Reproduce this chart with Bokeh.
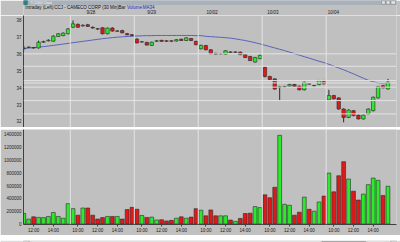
import math
from bokeh.plotting import figure
from bokeh.models import Range1d, FixedTicker, Span, ColumnDataSource, NumeralTickFormatter
from bokeh.layouts import column
from bokeh.core.properties import value
from bokeh.embed import file_html
from bokeh.resources import INLINE

# ---------------- data (30-minute bars, CCJ, 9/27 11:00 .. 10/04 15:30) ----------------
opens = [36.33, 36.40, 36.39, 36.37, 36.71, 36.79, 36.77, 37.05, 37.10, 37.21,
         37.60, 37.77, 37.68, 37.75, 37.60, 37.51, 37.57, 37.21, 37.55, 37.36,
         37.40, 37.22, 37.16, 36.89, 36.72, 36.70, 36.52, 36.77, 36.82, 36.79,
         36.79, 36.78, 36.89, 36.81, 36.93, 36.76, 36.32, 36.51, 36.26, 36.05,
         36.01, 35.99, 36.13, 36.11, 36.12, 35.97, 35.86, 35.53, 35.73, 35.22,
         34.67, 34.53, 34.02, 34.05, 34.10, 34.20, 34.10, 33.88, 34.24, 34.12,
         34.19, 34.43, 33.28, 33.54, 33.40, 32.74, 32.24, 32.64, 32.38, 32.15,
         32.45, 32.64, 33.40, 34.13, 33.93]
closes = [36.37, 36.42, 36.36, 36.71, 36.75, 36.83, 37.07, 37.21, 37.25, 37.50,
          37.80, 37.60, 37.71, 37.65, 37.55, 37.49, 37.21, 37.55, 37.37, 37.38,
          37.27, 37.15, 37.10, 36.67, 36.74, 36.54, 36.71, 36.79, 36.76, 36.77,
          36.77, 36.86, 36.81, 36.97, 36.81, 36.56, 36.52, 36.26, 36.02, 35.99,
          36.03, 36.20, 36.11, 36.13, 35.97, 35.80, 35.62, 35.80, 35.93, 34.67,
          34.50, 33.93, 34.06, 34.08, 34.20, 34.08, 33.88, 34.33, 34.22, 34.14,
          34.43, 34.23, 33.54, 33.35, 32.74, 32.24, 32.68, 32.35, 32.15, 32.38,
          32.74, 33.44, 34.07, 34.00, 34.33]
highs = [36.50, 36.45, 36.42, 36.80, 36.80, 36.88, 37.12, 37.25, 37.29, 37.55,
         38.00, 37.82, 37.78, 37.80, 37.64, 37.55, 37.60, 37.58, 37.60, 37.42,
         37.45, 37.26, 37.19, 36.95, 36.78, 36.73, 36.74, 36.83, 36.85, 36.82,
         36.82, 36.89, 36.92, 37.00, 36.96, 36.80, 36.56, 36.55, 36.30, 36.08,
         36.06, 36.24, 36.16, 36.16, 36.15, 36.00, 35.90, 35.84, 35.98, 35.28,
         34.72, 34.57, 34.12, 34.12, 34.24, 34.24, 34.14, 34.37, 34.28, 34.17,
         34.47, 34.47, 33.88, 33.58, 33.44, 32.78, 32.72, 32.68, 32.42, 32.42,
         32.78, 33.48, 34.11, 34.17, 34.53]
lows = [36.22, 36.37, 36.34, 36.33, 36.68, 36.76, 36.74, 37.02, 37.07, 37.18,
        37.55, 37.57, 37.64, 37.62, 37.52, 37.45, 37.18, 37.18, 37.34, 37.33,
        37.24, 37.12, 37.07, 36.64, 36.69, 36.51, 36.49, 36.74, 36.73, 36.74,
        36.74, 36.75, 36.78, 36.78, 36.78, 36.53, 36.28, 36.23, 35.99, 35.96,
        35.98, 35.96, 36.08, 36.08, 35.94, 35.77, 35.59, 35.50, 35.70, 34.62,
        34.46, 33.88, 33.24, 34.02, 34.07, 34.05, 33.85, 33.85, 34.19, 34.09,
        34.16, 34.20, 33.24, 33.31, 32.70, 31.95, 32.20, 32.31, 32.12, 32.12,
        32.42, 32.60, 33.36, 33.97, 33.90]
volumes = [165000, 77000, 112000, 103000, 100000, 118000, 180000, 118000, 90000, 318000,
           240000, 138000, 250000, 250000, 138000, 77000, 100000, 118000, 118000, 118000,
           77000, 225000, 260000, 230000, 133000, 103000, 108000, 63000, 67000, 48000,
           57000, 90000, 112000, 90000, 108000, 240000, 215000, 128000, 220000, 128000,
           128000, 128000, 62000, 41000, 87000, 164000, 169000, 272000, 256000, 456000,
           410000, 574000, 1385000, 308000, 292000, 138000, 185000, 420000, 230000, 200000,
           344000, 436000, 795000, 503000, 754000, 974000, 703000, 513000, 374000, 467000,
           615000, 718000, 682000, 446000, 590000]
ma34 = [36.33, 36.36, 36.39, 36.42, 36.45, 36.48, 36.52, 36.56, 36.60, 36.64,
        36.68, 36.72, 36.76, 36.80, 36.84, 36.88, 36.92, 36.95, 36.98, 37.01,
        37.03, 37.05, 37.07, 37.08, 37.09, 37.10, 37.10, 37.11, 37.11, 37.11,
        37.11, 37.11, 37.11, 37.11, 37.11, 37.10, 37.10, 37.06, 37.04, 37.02,
        37.00, 36.98, 36.95, 36.91, 36.86, 36.81, 36.75, 36.68, 36.61, 36.53,
        36.45, 36.37, 36.29, 36.21, 36.12, 36.03, 35.94, 35.85, 35.76, 35.67,
        35.58, 35.50, 35.40, 35.29, 35.18, 35.07, 34.95, 34.83, 34.70, 34.57,
        34.45, 34.36, 34.29, 34.25, 34.23]
day_starts = [10, 23, 36, 49, 62]
day_labels = ["9/28", "9/29", "10/02", "10/03", "10/04"]
time_ticks = [2, 6, 11, 15, 19, 24, 28, 32, 37, 41, 45, 50, 54, 58, 63, 67, 71]
time_labels = ["12:00", "14:00", "10:00", "12:00", "14:00", "10:00", "12:00", "14:00",
               "10:00", "12:00", "14:00", "10:00", "12:00", "14:00", "10:00", "12:00", "14:00"]
price_ticks = [32, 33, 34, 35, 36, 37, 38]
volume_ticks = [0, 200000, 400000, 600000, 800000, 1000000, 1200000, 1400000]
level_lines = [36.02, 35.28, 34.43, 34.29, 34.04, 33.24, 32.45]
header_parts = ["Intraday (Left)", "CCJ - CAMECO CORP (30 Min)", "Bar", "Volume", "MA34"]
window_title = "TC2000 Chart"

# ---------------- styling / layout ----------------
FONT = "Liberation Sans"
BG = "#c0c0c0"
UP = "#2ee82e"
DOWN = "#e01818"
EDGE = "#2a2a2a"
LIGHT = "#e4e4e4"
FS = "4.5px"
LEFT, RIGHT, PX_PER_BAR = 17, 4, 5.0
header_px = [2, 33, 102, 111, 128]   # left edges of header pieces, in pixels

n = len(opens)
idx = list(range(n))
up = [c >= o for o, c in zip(opens, closes)]
src = ColumnDataSource(dict(
    x=idx, o=opens, c=closes, h=highs, l=lows, v=volumes, ma=ma34,
    top=[max(o, c) for o, c in zip(opens, closes)],
    bot=[min(o, c) for o, c in zip(opens, closes)],
    col=[UP if u else DOWN for u in up],
))

x0 = -0.06
xr = Range1d(x0, x0 + (400 - LEFT - RIGHT) / PX_PER_BAR)
# header strip spans the full 400 px with the same bar scale
hx0 = x0 - LEFT / PX_PER_BAR
head_xr = Range1d(hx0, hx0 + 400 / PX_PER_BAR)


def px(p):
    return hx0 + p / PX_PER_BAR


def strip(h, bg, x_range):
    f = figure(width=400, height=h, x_range=x_range, y_range=Range1d(0, h),
               output_backend="svg", toolbar_location=None, x_axis_location=None,
               y_axis_location=None, min_border=0, background_fill_color=bg,
               border_fill_color=bg, outline_line_color=None, title=None)
    f.grid.grid_line_color = None
    return f


# title bar + header line + date labels (15 px)
p_head = strip(15, BG, head_xr)
p_head.quad(left=[px(0)], right=[px(400)], bottom=[11], top=[15], color="#a9b1bb")
p_head.quad(left=[px(0)], right=[px(4)], bottom=[11], top=[15], color="#2f7f86")
p_head.quad(left=[px(384), px(389), px(394)], right=[px(388), px(393), px(399)],
            bottom=[11.3] * 3, top=[14.7] * 3,
            fill_color="#e6e6e6", line_color="#707070", line_width=0.5)
p_head.text(x=[px(7)], y=[13], text=[window_title], text_font=value(FONT),
            text_font_size=value("3.5px"), text_baseline="middle", text_color="#f4f4f4")
p_head.text(x=[px(v) for v in header_px[:3]], y=[7.7] * 3, text=header_parts[:3],
            text_font=value(FONT), text_font_size=value(FS), text_baseline="middle",
            text_color="#101010")
p_head.text(x=[px(v) for v in header_px[3:]], y=[7.7] * 2, text=header_parts[3:],
            text_font=value(FONT), text_font_size=value(FS), text_baseline="middle",
            text_color="#2030c0")
p_head.text(x=[s + 1 for s in day_starts], y=[2.9] * len(day_starts), text=day_labels,
            text_font=value(FONT), text_font_size=value(FS), text_baseline="middle",
            text_align="center", text_color="#202020")

# price panel
p_top = figure(width=400, height=112, x_range=xr, y_range=Range1d(31.642, 38.297),
               output_backend="svg", toolbar_location=None, x_axis_location=None,
               min_border_left=LEFT, min_border_right=RIGHT, min_border_top=0,
               min_border_bottom=0, background_fill_color=BG, border_fill_color=BG,
               outline_line_color=None, title=None)
p_top.grid.grid_line_color = None
for lv in level_lines:
    p_top.add_layout(Span(location=lv, dimension="width", line_color=LIGHT, line_width=1))
for s in day_starts:
    p_top.add_layout(Span(location=s - 0.55, dimension="height", line_color=LIGHT, line_width=1))
p_top.line("x", "ma", source=src, line_color="#5864b8", line_width=1)
p_top.segment(x0="x", y0="h", x1="x", y1="l", source=src, line_color=EDGE, line_width=1)
p_top.vbar(x="x", top="top", bottom="bot", width=0.7, source=src, fill_color="col",
           line_color=EDGE, line_width=0.6)
p_top.yaxis.ticker = FixedTicker(ticks=price_ticks)

# volume panel
p_bot = figure(width=400, height=106, x_range=xr, y_range=Range1d(-7650, 1476503),
               output_backend="svg", toolbar_location=None,
               min_border_left=LEFT, min_border_right=RIGHT, min_border_top=0,
               min_border_bottom=0, background_fill_color=BG, border_fill_color=BG,
               outline_line_color=None, title=None)
p_bot.grid.grid_line_color = None
for s in day_starts:
    p_bot.add_layout(Span(location=s - 0.55, dimension="height", line_color=LIGHT, line_width=1))
p_bot.vbar(x="x", top="v", bottom=0, width=0.78, source=src, fill_color="col",
           line_color=EDGE, line_width=0.6)
p_bot.xaxis.ticker = FixedTicker(ticks=time_ticks)
p_bot.xaxis.major_label_overrides = {t: lab for t, lab in zip(time_ticks, time_labels)}
p_bot.yaxis.ticker = FixedTicker(ticks=volume_ticks)
p_bot.yaxis.formatter = NumeralTickFormatter(format="0")

for f in (p_top, p_bot):
    for ax in f.axis:
        ax.major_label_text_font = FONT
        ax.major_label_text_font_size = FS
        ax.major_label_text_color = "#202020"
        ax.minor_tick_line_color = None
        ax.axis_line_color = "#404040"
        ax.major_tick_line_color = "#404040"
        ax.major_tick_in = 0
    f.yaxis.major_tick_out = 0
    f.yaxis.major_label_standoff = 2
p_bot.xaxis.major_tick_out = 2
p_bot.xaxis.major_label_standoff = 1

# separator
p_sep = strip(2, "#4a4a4a", Range1d(0, 400))

# scrollbar
p_scr = strip(7, "#dcdcdc", Range1d(0, 400))
p_scr.quad(left=[0, 394, 320], right=[6, 400, 367], bottom=[0.5, 0.5, 1], top=[6.5, 6.5, 6],
           fill_color=["#eeeeee", "#eeeeee", "#c8c8c8"], line_color="#808080", line_width=0.5)
p_scr.scatter(x=[3, 397], y=[3.5, 3.5], marker="triangle", size=3,
              angle=[math.pi / 2, -math.pi / 2], color="#202020")

layout = column(p_head, p_top, p_sep, p_bot, p_scr, spacing=0)
open("out.html", "w").write(file_html(layout, INLINE))
